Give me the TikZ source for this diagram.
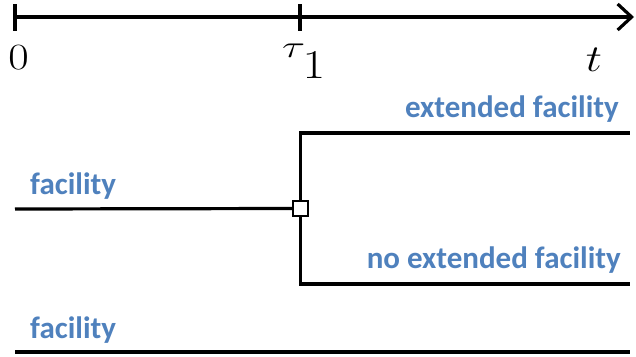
\RequirePackage{fix-cm}
\documentclass[tikz,border=0pt]{standalone}
\usepackage{fontspec}
\newfontfamily\labelfont{Carlito}[BoldFont={Carlito Bold}]
\usetikzlibrary{arrows.meta}
\definecolor{labelblue}{HTML}{4F81BD}
% math glyph at a given size, stretched horizontally
\newcommand{\widemath}[3][1.2]{\scalebox{#1}[1]{\fontsize{#2}{#2}\selectfont$#3$}}
\tikzset{
  x=1pt, y=-1pt,
  thick line/.style={line width=3.2pt, line cap=butt},
  branchlabel/.style={text=labelblue, font=\labelfont\bfseries\fontsize{31}{34}\selectfont, inner sep=0pt},
  mathlabel/.style={inner sep=0pt},
  decision/.style={draw, fill=white, line width=2.2pt, minimum size=15pt, inner sep=0pt},
}
\begin{document}
\begin{tikzpicture}
\useasboundingbox (0,0) rectangle (636,356);

% time axis
\coordinate (t0) at (15,17);
\coordinate (t1) at (300,17);
\coordinate (tend) at (634,17);
\draw[thick line, -{Straight Barb[length=14pt, width=26pt, line width=3.2pt]}] (t0) -- (tend);
\draw[thick line] (15,4) -- (15,31);
\draw[thick line] (300,4) -- (300,31);
\node[mathlabel, anchor=base] (lab0) at (18.5,69) {\widemath{37}{0}};
\node[mathlabel, anchor=base west] (labtau) at (282,57.5)
  {\resizebox{23pt}{13.5pt}{\fontsize{30}{30}\selectfont$\tau$}};
\node[mathlabel, anchor=base west] (labone) at (302.5,78) {\widemath{41}{1}};
\node[mathlabel, anchor=base] (labt) at (594,71) {\widemath{38}{t}};

% decision tree
\node[decision] (dec) at (300.5,208.5) {};
\coordinate (start) at (15,209);
\coordinate (upcorner) at (300.5,133);
\coordinate (upend) at (630,133);
\coordinate (downcorner) at (300.5,284);
\coordinate (downend) at (630,284);
\coordinate (altstart) at (15,352);
\coordinate (altend) at (630,352);

\draw[thick line] (start) -- (dec.west);
\draw[thick line] (dec.north) -- (upcorner) -- (upend);
\draw[thick line] (dec.south) -- (downcorner) -- (downend);
\draw[thick line] (altstart) -- (altend);

\node[branchlabel, anchor=base west] (lfac) at (30,194) {facility};
\node[branchlabel, anchor=base east] (lext) at (619,117) {extended facility};
\node[branchlabel, anchor=base east] (lnoext) at (621,268) {no extended facility};
\node[branchlabel, anchor=base west] (lfac2) at (30,338) {facility};
\end{tikzpicture}
\end{document}
